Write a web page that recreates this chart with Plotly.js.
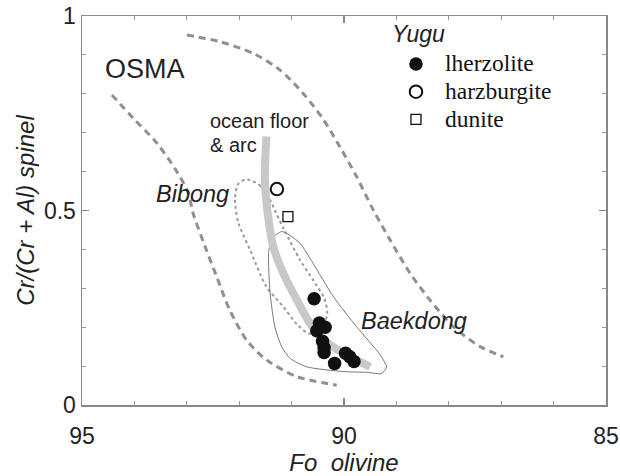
<!DOCTYPE html>
<html><head><meta charset="utf-8">
<script src="https://cdn.plot.ly/plotly-3.0.1.min.js"></script>
<style>html,body{margin:0;padding:0;background:#fff}#chart{width:620px;height:476px}</style>
</head><body><div id="chart"></div>
<script>
// OSMA (olivine-spinel mantle array) boundaries
const osmaLeftFo = [94.43, 94.02, 93.57, 93.19, 92.97, 92.88, 92.65, 92.43, 92.18, 91.86, 91.48, 90.90, 90.14];
const osmaLeftCr = [0.797, 0.737, 0.673, 0.600, 0.544, 0.493, 0.407, 0.330, 0.244, 0.167, 0.116, 0.073, 0.051];
const osmaRightFo = [93.00, 92.37, 91.73, 91.22, 90.78, 90.39, 90.08, 89.76, 89.44, 89.12, 88.74, 88.36, 87.91, 87.40, 86.96];
const osmaRightCr = [0.951, 0.934, 0.904, 0.861, 0.801, 0.733, 0.664, 0.587, 0.501, 0.424, 0.339, 0.270, 0.201, 0.150, 0.124];
// ocean floor & arc trend
const oceanFo = [91.48, 91.51, 91.44, 91.35, 91.16, 90.90, 90.65, 90.39, 90.01, 89.69, 89.50];
const oceanCr = [0.690, 0.578, 0.476, 0.407, 0.339, 0.270, 0.210, 0.167, 0.133, 0.111, 0.098];
// Bibong field
const bibongFo = [91.86, 91.62, 91.44, 91.30, 91.14, 90.84, 90.59, 90.38, 90.32, 90.40, 90.65, 90.88, 91.16, 91.48, 91.79, 92.02, 92.08, 92.02, 91.86];
const bibongCr = [0.580, 0.566, 0.535, 0.495, 0.450, 0.373, 0.321, 0.275, 0.236, 0.205, 0.183, 0.205, 0.253, 0.304, 0.398, 0.470, 0.530, 0.568, 0.580];
// Baekdong field
const baekFo = [91.19, 91.09, 90.84, 90.59, 90.20, 89.76, 89.31, 89.19, 89.28, 89.57, 90.01, 90.71, 91.03, 91.19, 91.32, 91.41, 91.44, 91.38, 91.19];
const baekCr = [0.446, 0.441, 0.416, 0.364, 0.278, 0.201, 0.129, 0.098, 0.081, 0.084, 0.086, 0.098, 0.120, 0.150, 0.201, 0.287, 0.390, 0.428, 0.446];
// Yugu samples
const lherzFo = [90.57, 90.47, 90.36, 90.52, 90.41, 90.38, 90.38, 90.18, 89.97, 89.89, 89.81];
const lherzCr = [0.273, 0.211, 0.200, 0.191, 0.164, 0.148, 0.135, 0.107, 0.133, 0.124, 0.112];
const harzFo = [91.28];
const harzCr = [0.555];
const duniteFo = [91.07];
const duniteCr = [0.484];
// axis ticks
const xTickVals = [95, 90, 85];
const xTickText = ['95', '90', '85'];
const xMinor = [94, 93, 92, 91, 89, 88, 87, 86];
const yTickVals = [0, 0.5, 1];
const yTickText = ['0', '0.5', '1'];
const yMinor = [0.1, 0.2, 0.3, 0.4, 0.6, 0.7, 0.8, 0.9];

const LS = 'Liberation Sans, Arial, sans-serif';
const traces = [
  {x: osmaLeftFo, y: osmaLeftCr, mode: 'lines', showlegend: false, hoverinfo: 'skip',
   line: {color: '#909090', width: 3, dash: '7px,5px', shape: 'spline', smoothing: 0.8}},
  {x: osmaRightFo, y: osmaRightCr, mode: 'lines', showlegend: false, hoverinfo: 'skip',
   line: {color: '#909090', width: 3, dash: '7px,5px', shape: 'spline', smoothing: 0.8}},
  {x: bibongFo, y: bibongCr, mode: 'lines', showlegend: false, hoverinfo: 'skip',
   line: {color: '#9a9a9a', width: 2, dash: 'dot', shape: 'spline', smoothing: 0.8}},
  {x: baekFo, y: baekCr, mode: 'lines', showlegend: false, hoverinfo: 'skip',
   line: {color: '#777', width: 1, shape: 'spline', smoothing: 0.6}},
  {x: oceanFo, y: oceanCr, mode: 'lines', showlegend: false, hoverinfo: 'skip',
   line: {color: '#c8c8c8', width: 8, shape: 'spline', smoothing: 0.8}},
  {x: lherzFo, y: lherzCr, mode: 'markers', name: '<span style="font-size:23.5px">lherzolite</span>',
   marker: {color: '#111', size: 13.5, line: {width: 0}}},
  {x: harzFo, y: harzCr, mode: 'markers', name: '<span style="font-size:23.5px">harzburgite</span>',
   marker: {color: '#fff', size: 12.5, symbol: 'circle', line: {color: '#111', width: 2}}},
  {x: duniteFo, y: duniteCr, mode: 'markers', name: '<span style="font-size:23.5px">dunite</span>',
   marker: {color: '#fff', size: 10, symbol: 'square', line: {color: '#111', width: 1.3}}}
];

const layout = {
  width: 620, height: 476,
  margin: {l: 82, r: 14, t: 16, b: 71},
  paper_bgcolor: '#fff', plot_bgcolor: '#fff',
  showlegend: true,
  legend: {x: 0.582, y: 0.925, xanchor: 'left', yanchor: 'top', bgcolor: 'rgba(0,0,0,0)',
    font: {family: 'Liberation Serif, Times New Roman, serif', size: 19, color: '#111'}, itemwidth: 48},
  xaxis: {range: [95, 85], autorange: false, showgrid: false, zeroline: false,
    showline: true, mirror: 'allticks', linecolor: '#888', linewidth: 1.5,
    ticks: 'inside', ticklen: 7, tickwidth: 1.2, tickcolor: '#888',
    tickvals: xTickVals, ticktext: xTickText, ticklabelstandoff: 10,
    tickfont: {family: LS, size: 23, color: '#222'},
    minor: {tickvals: xMinor, ticks: 'inside', ticklen: 4, tickwidth: 1, tickcolor: '#999'},
    title: {text: 'Fo\u00a0 olivine', font: {family: LS, size: 24, color: '#222', style: 'italic'}, standoff: 3}},
  yaxis: {range: [0, 1], autorange: false, showgrid: false, zeroline: false,
    showline: true, mirror: 'allticks', linecolor: '#888', linewidth: 1.5,
    ticks: 'inside', ticklen: 7, tickwidth: 1.2, tickcolor: '#888',
    tickvals: yTickVals, ticktext: yTickText,
    tickfont: {family: LS, size: 23, color: '#222'},
    minor: {tickvals: yMinor, ticks: 'inside', ticklen: 4, tickwidth: 1, tickcolor: '#999'},
    title: {text: 'Cr/(Cr + Al) spinel', font: {family: LS, size: 24, color: '#222', style: 'italic'}, standoff: 2}},
  annotations: [
    {x: 94.60, y: 0.865, xref: 'x', yref: 'y', text: 'OSMA', showarrow: false, xanchor: 'left', yanchor: 'middle',
     font: {family: LS, size: 27, color: '#222'}},
    {x: 92.60, y: 0.730, xref: 'x', yref: 'y', text: 'ocean floor', showarrow: false, xanchor: 'left', yanchor: 'middle',
     font: {family: LS, size: 20, color: '#222'}},
    {x: 92.60, y: 0.669, xref: 'x', yref: 'y', text: '&amp; arc', showarrow: false, xanchor: 'left', yanchor: 'middle',
     font: {family: LS, size: 20, color: '#222'}},
    {x: 93.63, y: 0.542, xref: 'x', yref: 'y', text: 'Bibong', showarrow: false, xanchor: 'left', yanchor: 'middle',
     font: {family: LS, size: 23.5, color: '#222', style: 'italic'}},
    {x: 89.72, y: 0.215, xref: 'x', yref: 'y', text: 'Baekdong', showarrow: false, xanchor: 'left', yanchor: 'middle',
     font: {family: LS, size: 23.5, color: '#222', style: 'italic'}},
    {x: 0.587, y: 0.955, xref: 'paper', yref: 'paper', text: 'Yugu', showarrow: false, xanchor: 'left', yanchor: 'middle',
     font: {family: LS, size: 23, color: '#222', style: 'italic'}}
  ]
};
Plotly.newPlot('chart', traces, layout, {staticPlot: true, displayModeBar: false});
</script></body></html>
